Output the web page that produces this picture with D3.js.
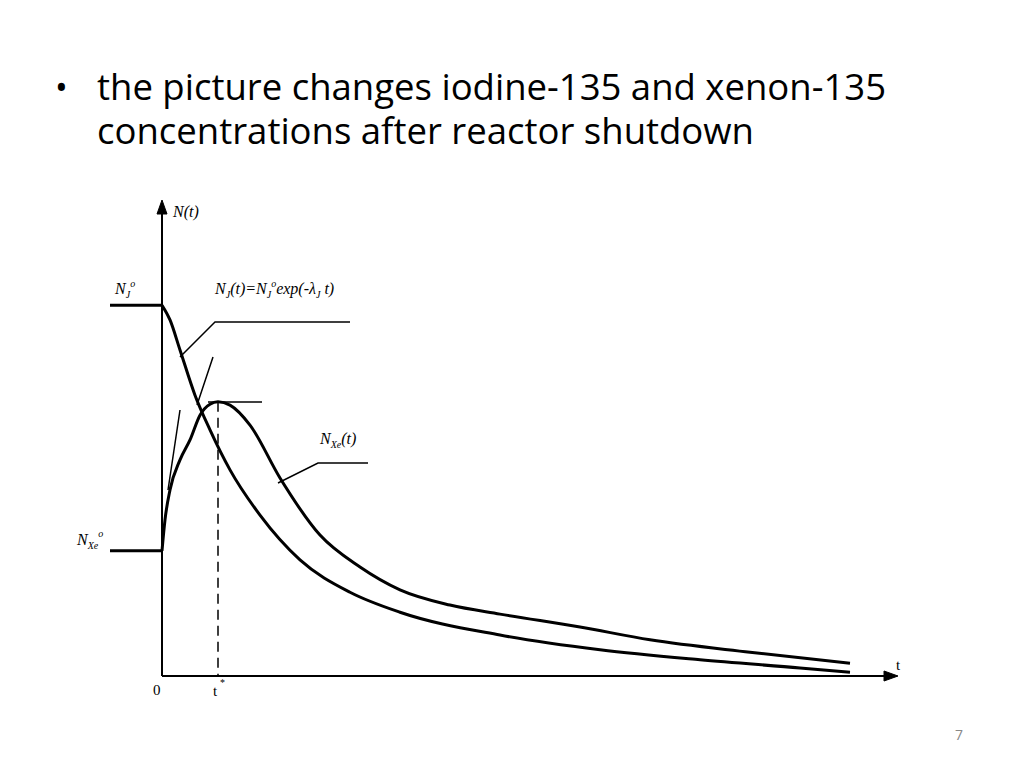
<!DOCTYPE html><html><head><meta charset="utf-8"><script src="https://d3js.org/d3.v7.min.js"></script>
<style>body{margin:0;background:#fff}</style></head><body><svg id="c" width="1024" height="768"></svg>
<script>
const iodineT=[0,8,18,33,48,68,98,138,188,238,338,438,538,638,688];
const iodineN=[77.9,74.8,68.5,59.0,51.7,43.3,33.8,24.4,17.6,13.4,8.6,5.5,3.4,1.7,0.8];
const xenonT=[0,3,8,18,28,38,48,56,68,88,118,158,198,238,288,338,418,488,588,688];
const xenonN=[26.3,32.8,39.1,45.4,49.6,54.8,57.1,57.6,56.9,52.7,41.6,29.6,22.9,18.1,14.9,13.0,10.3,7.6,5.0,2.7];
const tStar=56;
const svg=d3.select("#c");
const x=d3.scaleLinear().domain([0,735]).range([162,897]);
const y=d3.scaleLinear().domain([0,100]).range([676,200]);
const serif="'Liberation Serif','Times New Roman',serif";
const tf="'Open Sans',sans-serif";
const title=svg.append("text").attr("font-family",tf).attr("font-size",36.5).attr("fill","#000");
title.append("tspan").attr("x",97).attr("y",100).text("the picture changes iodine-135 and xenon-135");
title.append("tspan").attr("x",97).attr("y",144).text("concentrations after reactor shutdown");
svg.append("text").attr("x",55).attr("y",100).attr("font-size",34).attr("font-family",tf).text("•");
svg.append("text").attr("x",955).attr("y",740).attr("font-size",14).attr("fill","#888").attr("font-family",tf).text("7");
const g=svg.append("g").attr("stroke","#000").attr("fill","none");
g.append("line").attr("x1",x(0)).attr("x2",x(0)).attr("y1",y(0)).attr("y2",208).attr("stroke-width",2);
g.append("path").attr("d",`M${x(0)-5},214L${x(0)},200L${x(0)+5},214Z`).attr("fill","#000");
g.append("line").attr("x1",x(0)).attr("x2",890).attr("y1",y(0)).attr("y2",y(0)).attr("stroke-width",2);
g.append("path").attr("d",`M884,${y(0)-5}L898,${y(0)}L884,${y(0)+5}Z`).attr("fill","#000");
g.append("line").attr("x1",110).attr("x2",x(0)).attr("y1",y(iodineN[0])).attr("y2",y(iodineN[0])).attr("stroke-width",3);
g.append("line").attr("x1",110).attr("x2",x(0)).attr("y1",y(xenonN[0])).attr("y2",y(xenonN[0])).attr("stroke-width",3);
const line=d3.line().x(d=>x(d[0])).y(d=>y(d[1])).curve(d3.curveMonotoneX);
g.append("path").attr("d",line(iodineT.map((t,i)=>[t,iodineN[i]]))).attr("stroke-width",3);
g.append("path").attr("d",line(xenonT.map((t,i)=>[t,xenonN[i]]))).attr("stroke-width",3);
g.append("line").attr("x1",x(tStar)).attr("x2",x(tStar)).attr("y1",y(57.6)).attr("y2",y(0)).attr("stroke-width",1.5).attr("stroke-dasharray","10,6");
const ann=[[[180,357],[215,322],[350,322]],[[208,402],[262,402]],[[197,405],[213,357]],[[168,490],[180,410]],[[278,483],[318,463],[368,463]]];
ann.forEach(p=>g.append("path").attr("d","M"+p.join("L")).attr("stroke-width",1.5));
// parts: [text, dy, small]
function lab(xp,yp,parts){const t=svg.append("text").attr("x",xp).attr("y",yp).attr("font-family",serif).attr("font-style","italic").attr("font-size",16);
parts.forEach(p=>{const s=t.append("tspan").text(p[0]).attr("font-size",p[2]?10:16);if(p[1])s.attr("dy",p[1]);});}
lab(173,217,[["N(t)"]]);
lab(115,294,[["N"],["J",4,1],["o",-11,1]]);
lab(215,294,[["N"],["J",4,1],["(t)=N",-4],["J",4,1],["o",-11,1],["exp(-",7],["λ"],["J",4,1],[" t)",-4]]);
lab(320,444,[["N"],["Xe",4,1],["(t)",-4]]);
lab(77,545,[["N"],["Xe",4,1],["o",-12,1]]);
svg.append("text").attr("x",153).attr("y",695).attr("font-family",serif).attr("font-size",15).text("0");
svg.append("text").attr("x",213).attr("y",696).attr("font-family",serif).attr("font-size",15).text("t");
svg.append("text").attr("x",220).attr("y",686).attr("font-family",serif).attr("font-size",10).text("*");
svg.append("text").attr("x",896).attr("y",670).attr("font-family",serif).attr("font-size",15).text("t");
</script></body></html>
